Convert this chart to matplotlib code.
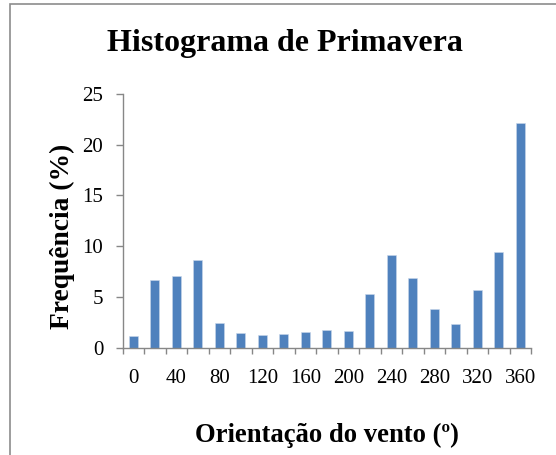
import matplotlib
matplotlib.use("Agg")
import matplotlib.pyplot as plt
from matplotlib.patches import Rectangle
import numpy as np

categories = [0, 20, 40, 60, 80, 100, 120, 140, 160, 180, 200, 220, 240, 260, 280, 300, 320, 340, 360]
frequencies = [1.15, 6.64, 7.06, 8.67, 2.46, 1.45, 1.25, 1.31, 1.58, 1.74, 1.68,
               5.26, 9.17, 6.83, 3.78, 2.37, 5.68, 9.46, 22.11]
tick_labels = ["0", "40", "80", "120", "160", "200", "240", "280", "320", "360"]

plt.rcParams['font.family'] = ['Liberation Serif', 'DejaVu Serif']

W, H = 556, 455
fig = plt.figure(figsize=(W / 100, H / 100), dpi=100)

# outer chart frame
fig.patches.append(Rectangle((10 / W, -0.1), 1.2, 1 - 4 / H + 0.1, transform=fig.transFigure,
                             fill=False, edgecolor='#8c8c8c', linewidth=1.2))

ax = fig.add_axes([122.7 / W, 1 - 347.7 / H, (531 - 122.7) / W, (347.7 - 94) / H])
x = np.arange(len(categories))
ax.bar(x, frequencies, width=0.42, color='#4F81BD', edgecolor='#c9d7ea', linewidth=0.4)

ax.set_xlim(-0.5, len(categories) - 0.5)
ax.set_ylim(0, 25)
ax.set_yticks([0, 5, 10, 15, 20, 25])
ax.set_xticks(x[::2])
ax.set_xticklabels(tick_labels)
ax.set_xticks(np.arange(-0.5, len(categories)), minor=True)

gray = '#878787'
for s in ['top', 'right']:
    ax.spines[s].set_visible(False)
for s in ['left', 'bottom']:
    ax.spines[s].set_color(gray)
    ax.spines[s].set_linewidth(1.0)

ax.tick_params(axis='x', which='major', length=0, labelsize=15, pad=15)
ax.tick_params(axis='x', which='minor', length=4.5, color=gray, width=1.0, direction='out')
ax.tick_params(axis='y', which='major', length=5, color=gray, width=1.0, labelsize=15, pad=9)

fig.text(285 / W, 1 - 43 / H, "Histograma de Primavera", ha='center', va='center',
         fontsize=23, fontweight='bold')
fig.text(327 / W, 1 - 435 / H, "Orientação do vento (º)", ha='center', va='center',
         fontsize=19.2, fontweight='bold')
fig.text(62 / W, 1 - 236 / H, "Frequência (%)", ha='center', va='center', rotation=90,
         fontsize=19.8, fontweight='bold')

fig.savefig("out.png", dpi=100)
